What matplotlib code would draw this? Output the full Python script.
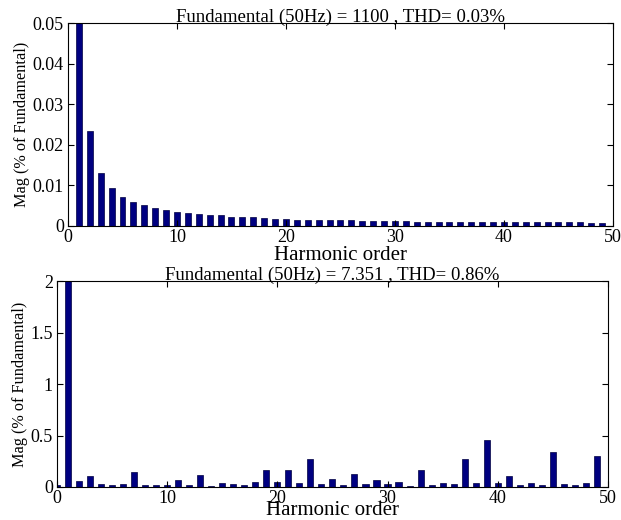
import matplotlib
matplotlib.use("Agg")
import matplotlib.pyplot as plt
import numpy as np

plt.rcParams["font.family"] = ["Liberation Serif", "DejaVu Serif"]

# harmonic orders 0..49 (0 = DC)
orders = np.arange(0, 50)

# top: Fundamental (50Hz) = 1100 , THD= 0.03%  (values in % of fundamental)
mag_top = [0.0, 100.0,
           0.0234, 0.0131, 0.0094, 0.0072, 0.0060, 0.0052, 0.0045, 0.0040,
           0.0035, 0.0033, 0.0030, 0.0028, 0.0026, 0.0023, 0.0022, 0.0021,
           0.0019, 0.0018, 0.0017, 0.0016, 0.0016, 0.0015, 0.0014, 0.0014,
           0.0014, 0.0013, 0.0013, 0.0012, 0.0012, 0.0012, 0.0011, 0.0011,
           0.0011, 0.0011, 0.0010, 0.0010, 0.0010, 0.0009, 0.0009, 0.0009,
           0.0009, 0.0009, 0.0009, 0.0009, 0.0009, 0.0009, 0.0008, 0.0008]

# bottom: Fundamental (50Hz) = 7.351 , THD= 0.86%
mag_bot = [0.02, 100.0,
           0.058, 0.107, 0.026, 0.016, 0.026, 0.142, 0.023, 0.023,
           0.019, 0.071, 0.023, 0.113, 0.013, 0.039, 0.032, 0.016,
           0.045, 0.162, 0.052, 0.162, 0.036, 0.275, 0.029, 0.080,
           0.023, 0.126, 0.026, 0.065, 0.026, 0.052, 0.013, 0.165,
           0.020, 0.042, 0.026, 0.272, 0.042, 0.456, 0.042, 0.110,
           0.023, 0.039, 0.020, 0.343, 0.026, 0.016, 0.036, 0.300]

title_top = "Fundamental (50Hz) = 1100 , THD= 0.03%"
title_bot = "Fundamental (50Hz) = 7.351 , THD= 0.86%"
bar_color = "#000080"

fig = plt.figure(figsize=(6.21, 5.20), dpi=100)
ax1 = fig.add_axes([0.1095, 0.5654, 0.8776, 0.390])
ax2 = fig.add_axes([0.0918, 0.0635, 0.887, 0.396])

for ax, mag, title, top, yt in [
        (ax1, mag_top, title_top, 0.05, [0, 0.01, 0.02, 0.03, 0.04, 0.05]),
        (ax2, mag_bot, title_bot, 2, [0, 0.5, 1, 1.5, 2])]:
    ax.bar(orders, mag, width=0.55, color=bar_color, edgecolor="#000040",
           linewidth=0.5)
    ax.set_xlim(0, 50)
    ax.set_ylim(0, top)
    ax.set_yticks(yt)
    ax.set_yticklabels([("%g" % v) for v in yt])
    ax.set_xticks([0, 10, 20, 30, 40, 50])
    ax.tick_params(direction="in", top=True, right=True, labelsize=13,
                   length=4, width=0.8, pad=3)
    ax.tick_params(axis="x", pad=2)
    ax.set_title(title, fontsize=13.5, pad=1)
    ax.set_ylabel("Mag (% of Fundamental)", fontsize=11.7, labelpad=2)
    for s in ax.spines.values():
        s.set_linewidth(0.8)

ax1.set_xlabel("Harmonic order", fontsize=15, labelpad=0)
ax2.set_xlabel("Harmonic order", fontsize=15, labelpad=-4)

fig.savefig("out.png", dpi=100)
